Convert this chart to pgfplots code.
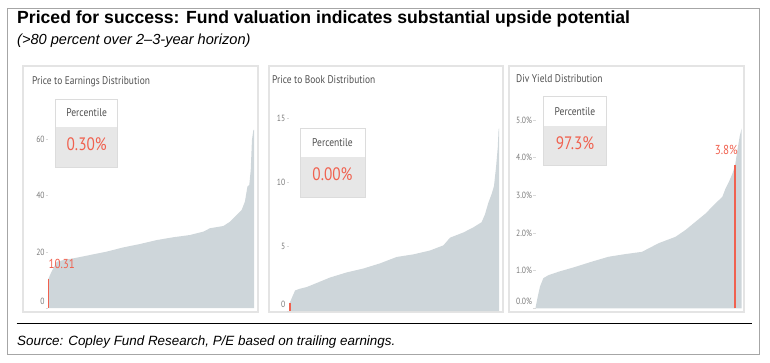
\documentclass[border=0pt]{standalone}
\usepackage{fontspec}
\setmainfont{Liberation Sans}
\newfontfamily\pf[FakeStretch=0.85]{PT Sans}
\usepackage{pgfplots}
\pgfplotsset{compat=1.18}
\definecolor{fillc}{HTML}{CED6DA}
\definecolor{redc}{HTML}{F0614F}
\definecolor{framec}{HTML}{E4E4E4}
\definecolor{boxg}{HTML}{E7E7E7}
\definecolor{boxb}{HTML}{DCDCDC}
\definecolor{txt}{HTML}{505050}
\definecolor{tickc}{HTML}{7A7A7A}
\pgfplotsset{
  panel/.style={scale only axis, anchor=south west, xmin=0, xmax=100, ymin=0,
    axis lines=left, axis line style={draw=none}, xtick=\empty,
    tick align=outside, major tick length=2.5pt,
    ytick style={draw=gray!30, line width=0.6pt},
    yticklabel style={font=\pf\fontsize{9}{9}\selectfont, text=tickc, inner sep=1pt},
    clip=false},
}
\begin{document}
\begin{tikzpicture}
\useasboundingbox (0,0) rectangle (770pt,-363pt);
% outer frame
\draw[gray!70, line width=0.8pt] (7.3pt,-8pt) rectangle (759.3pt,-354pt);
% title
\node[anchor=base west, inner sep=0] at (17pt,-24pt) {\fontsize{17.6}{19}\selectfont\bfseries Priced for success: Fund valuation indicates substantial upside potential};
\node[anchor=base west, inner sep=0] at (17pt,-45pt) {\fontsize{14.6}{16}\selectfont\itshape (>80 percent over 2--3-year horizon)};
% panel frames
\draw[framec, line width=1.5pt] (23pt,-66pt) rectangle (258pt,-312pt);
\draw[framec, line width=1.5pt] (269pt,-66pt) rectangle (503pt,-312pt);
\draw[framec, line width=1.5pt] (509pt,-66pt) rectangle (744pt,-312pt);
% panel titles
\node[anchor=base west, inner sep=0, text=txt] at (32pt,-85pt) {\pf\fontsize{11.1}{12}\selectfont Price to Earnings Distribution};
\node[anchor=base west, inner sep=0, text=txt] at (272pt,-84pt) {\pf\fontsize{11.1}{12}\selectfont Price to Book Distribution};
\node[anchor=base west, inner sep=0, text=txt] at (516pt,-83pt) {\pf\fontsize{11.1}{12}\selectfont Div Yield Distribution};
% separator and source
\draw[black, line width=0.9pt] (16.7pt,-323.3pt) -- (752pt,-323.3pt);
\node[anchor=base west, inner sep=0] at (17pt,-345pt) {\fontsize{13.4}{15}\selectfont\itshape Source: Copley Fund Research, P/E based on trailing earnings.};

% Panel 1
\begin{axis}[panel, at={(48.3pt,-308.2pt)}, width=205.7pt, height=180.2pt, ymax=64,
  ytick={0,20,40,60}, yticklabels={\raisebox{13pt}{0},20,40,60}]
\addplot[fill=fillc, draw=none] coordinates {(0,0) (0,10.3) (0.5,11.2) (1.6,13) (4.1,16.5) (7.3,17.1) (12.2,17.7) (20.3,18.9) (28.4,20.1) (36.5,21.6) (44.6,22.8) (52.7,24.2) (60.8,25.2) (68.9,26) (75.4,27.2) (78.6,28.4) (85.1,29.2) (88.3,30.7) (91.6,33.1) (94,34.9) (95.6,37.9) (96.8,43.2) (97.7,43.8) (98.4,49) (99,59.7) (99.7,63.3) (100,63.3) (100,0)} \closedcycle;
\addplot[draw=redc, line width=1.5pt, mark=none] coordinates {(0.2,0) (0.2,10.31)};
\node[anchor=south west, inner sep=0, text=redc, font=\pf\fontsize{13}{13}\selectfont] at (axis cs:0,13.8) {10.31};
\end{axis}

% Panel 2
\begin{axis}[panel, at={(289pt,-311pt)}, width=210pt, height=195.6pt, ymax=15.2,
  ytick={0,5,10,15}, yticklabels={\raisebox{14pt}{0},5,10,15}]
\addplot[fill=fillc, draw=none] coordinates {(0,0) (0,0.5) (1.3,1.0) (2.9,1.6) (5.2,1.73) (8.4,1.86) (11.6,2.07) (19.5,2.6) (27.5,3.0) (35.4,3.3) (43.3,3.7) (51.3,4.2) (59.2,4.4) (67.1,4.7) (73.5,5.1) (76.7,5.7) (83,6.1) (87.8,6.5) (91.7,6.9) (93.3,7.5) (94.9,8.4) (96.5,9.1) (97.6,9.7) (98.6,11.2) (99.4,12.7) (99.8,14.1) (100,14.2) (100,0)} \closedcycle;
\addplot[draw=redc, line width=1.5pt, mark=none] coordinates {(0.4,0) (0.4,0.6)};
\end{axis}

% Panel 3
\begin{axis}[panel, at={(535.7pt,-308.3pt)}, width=206pt, height=192pt, ymax=5.1,
  ytick={0,1,2,3,4,5}, yticklabels={\raisebox{15pt}{0.0\%},1.0\%,2.0\%,3.0\%,4.0\%,5.0\%}]
\addplot[fill=fillc, draw=none] coordinates {(0,0) (0,0.04) (1,0.31) (2.1,0.58) (3.7,0.8) (6.2,0.88) (11,0.97) (19.2,1.1) (27.3,1.24) (35.4,1.37) (43.5,1.44) (51.6,1.5) (59.7,1.73) (67.9,1.9) (72.7,2.08) (77.6,2.3) (82.5,2.52) (87.3,2.79) (90.6,2.96) (92.2,3.19) (93.8,3.36) (95.5,3.58) (96.8,3.8) (97.9,4.2) (99,4.56) (100,4.78) (100,0)} \closedcycle;
\addplot[draw=redc, line width=1.5pt, mark=none] coordinates {(96.8,0) (96.8,3.8)};
\node[anchor=center, inner sep=0, text=redc, font=\pf\fontsize{13}{13}\selectfont] at (axis cs:92.5,4.2) {3.8\%};
\end{axis}

% Percentile boxes
\foreach \xa/\xb/\ya/\ym/\yb/\val in {55.7/117.7/99/126.7/167/0.30\%, 300/365/128.3/157.3/197.7/0.00\%, 543.3/606.7/96.7/126/165.7/97.3\%}{
  \fill[boxg] (\xa pt,-\ym pt) rectangle (\xb pt,-\yb pt);
  \fill[white] (\xa pt,-\ya pt) rectangle (\xb pt,-\ym pt);
  \draw[boxb, line width=0.8pt] (\xa pt,-\ya pt) rectangle (\xb pt,-\yb pt);
  \node[text=txt, inner sep=0, font=\pf\fontsize{11.2}{11}\selectfont] at ({(\xa+\xb)/2*1pt}, {-(\ya+\ym)/2*1pt}) {Percentile};
  \node[text=redc, inner sep=0, font=\pf\fontsize{18}{18}\selectfont] at ({(\xa+\xb)/2*1pt}, {-(\ym+\yb)/2*1pt+3pt}) {\val};
}
\end{tikzpicture}
\end{document}
